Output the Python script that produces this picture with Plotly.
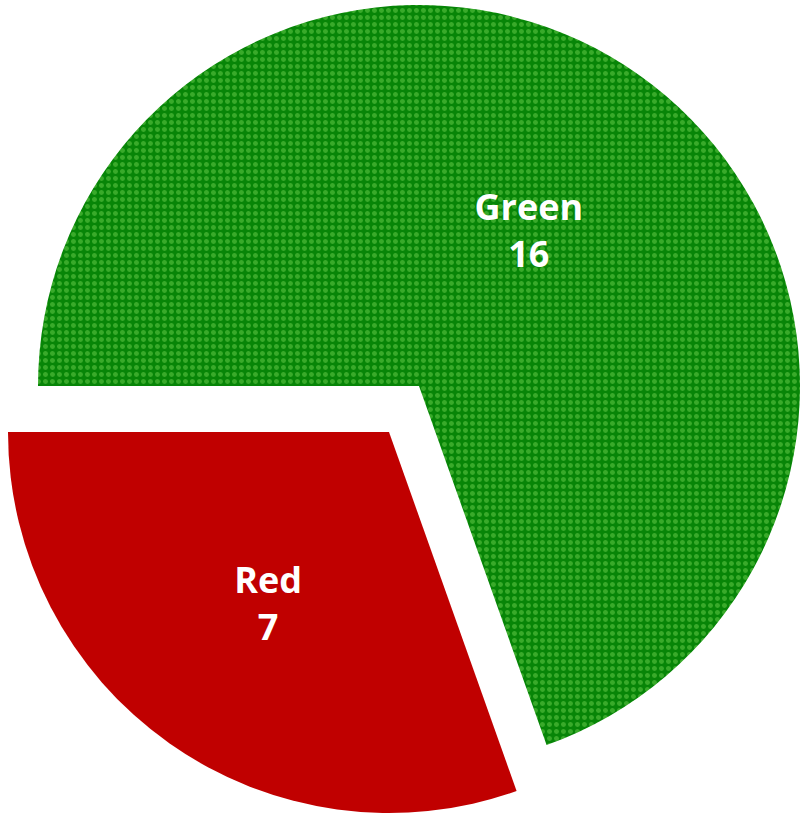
import plotly.graph_objects as go

labels = ["Green", "Red"]
values = [16, 7]
colors = ["#078507", "#C00000"]
dash_color = "#6CD04E"

W, H = 800, 816
R = 381
green_center = (419, 386)
red_center = (389, 432)


def domain_for(center):
    cx, cy = center
    return dict(
        x=[max(0.0, (cx - R) / W), min(1.0, (cx + R) / W)],
        y=[max(0.0, 1 - (cy + R) / H), min(1.0, 1 - (cy - R) / H)],
    )


clear = "rgba(0,0,0,0)"
tmpl = "<b>%{label}<br>%{value}</b>"

common = dict(
    labels=labels,
    values=values,
    sort=False,
    direction="clockwise",
    rotation=-90,
    textposition="inside",
    insidetextorientation="horizontal",
    insidetextfont=dict(family="Open Sans", size=36, color="white"),
    showlegend=False,
)

fig = go.Figure()

# Green slice (red slice invisible in this trace)
fig.add_trace(go.Pie(
    **common,
    marker=dict(
        colors=[colors[0], clear],
        line=dict(width=0),
        pattern=dict(
            shape=[".", ""],
            bgcolor=[colors[0], clear],
            fgcolor=[dash_color, clear],
            size=7,
            solidity=0.4,
            fillmode="overlay",
        ),
    ),
    texttemplate=[tmpl, ""],
    hovertemplate=["%{label}: %{value}<extra></extra>", None],
    domain=domain_for(green_center),
))

# Red slice, pulled out (green slice invisible in this trace)
fig.add_trace(go.Pie(
    **common,
    marker=dict(
        colors=[clear, colors[1]],
        line=dict(width=0),
    ),
    texttemplate=["", tmpl],
    domain=domain_for(red_center),
))

fig.update_layout(
    width=W,
    height=H,
    margin=dict(l=0, r=0, t=0, b=0),
    paper_bgcolor="white",
    plot_bgcolor="white",
)

fig.write_html(
    "out.html",
    config={"displayModeBar": False},
    post_script="document.body.style.margin='0';document.body.style.overflow='hidden';",
)
